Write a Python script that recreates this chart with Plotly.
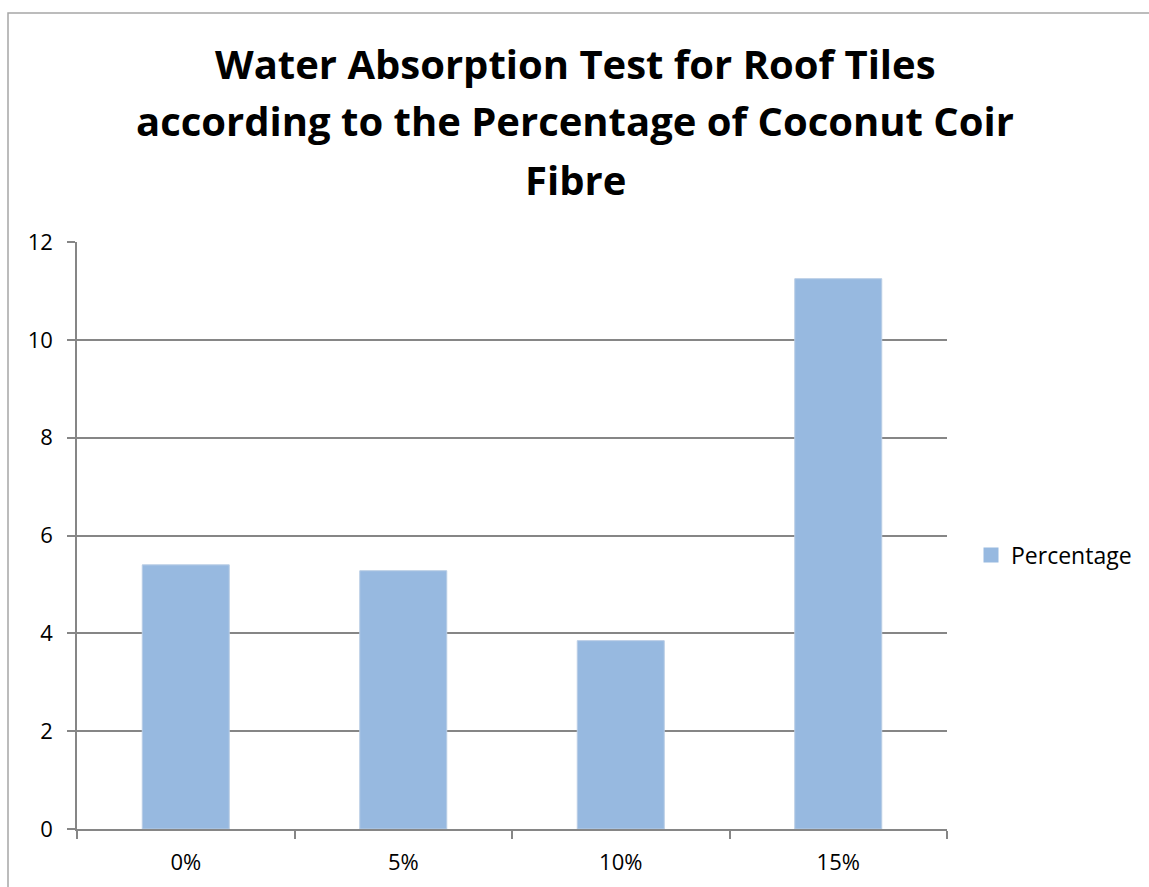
import plotly.graph_objects as go

# Water absorption (%) of roof tiles by coconut coir fibre content
fibre_content = ["0%", "5%", "10%", "15%"]
absorption = [5.40, 5.28, 3.85, 11.25]
series_name = "Percentage"
title_lines = [
    "Water Absorption Test for Roof Tiles",
    "according to the Percentage of Coconut Coir",
    "Fibre",
]
y_ticks = [0, 2, 4, 6, 8, 10, 12]

W, H = 1149, 887
L, R, T, B = 77, 947, 242, 829  # plot-area edges in pixels

def px_to_paper_x(px):
    return (px - L) / (R - L)

def px_to_paper_y(py):
    return (B - py) / (B - T)

axis_grey = "#868686"
bar_fill = "#97B9E0"
font_family = "Open Sans, Noto Sans, sans-serif"

fig = go.Figure()
fig.add_trace(go.Bar(
    x=fibre_content,
    y=absorption,
    name=series_name,
    marker=dict(color=bar_fill, line=dict(color="#B9CDE5", width=1)),
    showlegend=False,
))
# legend key: a square swatch for the bar series
fig.add_trace(go.Scatter(
    x=[None], y=[None], mode="markers", name=series_name,
    marker=dict(symbol="square", size=15, color=bar_fill),
    showlegend=True, hoverinfo="skip",
))

annotations = []
for line, cy in zip(title_lines, [63, 121, 179]):
    annotations.append(dict(
        text=f"<b>{line}</b>", x=px_to_paper_x(575), xref="paper", xanchor="center",
        y=px_to_paper_y(cy), yref="paper", yanchor="middle",
        showarrow=False, font=dict(family=font_family, size=40, color="#000000"),
    ))

fig.update_layout(
    width=W, height=H,
    margin=dict(l=L, r=W - R, t=T, b=H - B, pad=0, autoexpand=False),
    paper_bgcolor="white", plot_bgcolor="white",
    bargap=0.6,
    font=dict(family=font_family, size=22, color="#000000"),
    annotations=annotations,
    legend=dict(
        x=px_to_paper_x(971), y=px_to_paper_y(555),
        xanchor="left", yanchor="middle",
        font=dict(size=23), bgcolor="rgba(0,0,0,0)",
        itemwidth=30,
    ),
    shapes=[dict(
        type="rect", xref="paper", yref="paper",
        x0=px_to_paper_x(8), x1=px_to_paper_x(1170),
        y0=px_to_paper_y(900), y1=px_to_paper_y(13),
        line=dict(color="#A6A6A6", width=1.5), layer="below",
    )],
)

fig.update_xaxes(
    showline=True, linecolor=axis_grey, linewidth=1.5,
    ticks="outside", tickson="boundaries", ticklen=8, tickcolor=axis_grey, tickwidth=1.5,
    showgrid=False, zeroline=False, automargin=False,
    tickfont=dict(size=22), ticklabelstandoff=13,
)
fig.update_yaxes(
    range=[0, 12], tickvals=y_ticks,
    showline=True, linecolor=axis_grey, linewidth=1.5,
    ticks="outside", ticklen=8, tickcolor=axis_grey, tickwidth=1.5,
    showgrid=True, gridcolor=axis_grey, gridwidth=1.5,
    zeroline=False, automargin=False, tickfont=dict(size=22), ticklabelstandoff=10,
)

fig.write_html("out.html")
